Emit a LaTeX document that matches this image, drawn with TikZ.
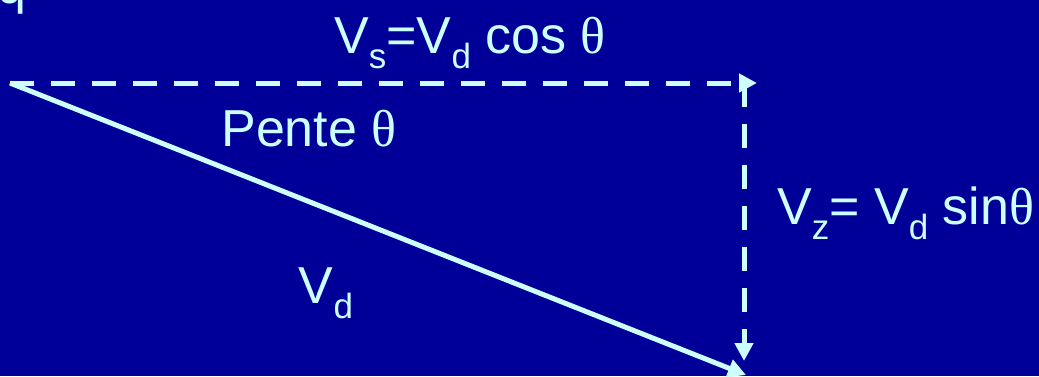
\documentclass[tikz,border=0pt]{standalone}
\usepackage{fontspec}
\setmainfont{Liberation Sans}
\newfontfamily\thetafont{Liberation Serif}
\usetikzlibrary{arrows.meta}
\definecolor{bg}{HTML}{000099}
\definecolor{fg}{HTML}{CCFFFF}
\newcommand{\thet}{{\thetafont θ}}
\newcommand{\subx}[1]{\raisebox{-0.3em}{\fontsize{35}{40}\selectfont #1}}
\tikzset{
  lbl/.style={text=fg, font=\fontsize{52}{60}\selectfont, inner sep=0pt},
  vec/.style={draw=fg, line width=5pt, -{Triangle[length=18pt,width=18pt]}},
  dvec/.style={vec, dash pattern=on 24pt off 17pt},
}
\begin{document}
\begin{tikzpicture}[x=1pt,y=-1pt]
\fill[bg] (0,0) rectangle (1039,376);
\useasboundingbox (0,0) rectangle (1039,376);
\coordinate (O) at (10,83);
\coordinate (H) at (757,83);
\coordinate (C) at (744,83);
\coordinate (B) at (744,361);
\coordinate (D) at (746,375);
\draw[dvec] (O) -- (H);
\draw[dvec] (C) -- (B);
\draw[vec] (O) -- (D);
\node[lbl, anchor=base west] (q) at (-3,3) {q};
\node[lbl, anchor=base] (vs) at (470,53) {V\subx{s}=V\subx{d} cos \thet};
\node[lbl, anchor=base] (pente) at (309,146) {Pente \thet};
\node[lbl, anchor=base] (vd) at (326,303) {V\subx{d}};
\node[lbl, anchor=base west] (vz) at (777,224) {V\subx{z}= V\subx{d} sin\thet};
\end{tikzpicture}
\end{document}
